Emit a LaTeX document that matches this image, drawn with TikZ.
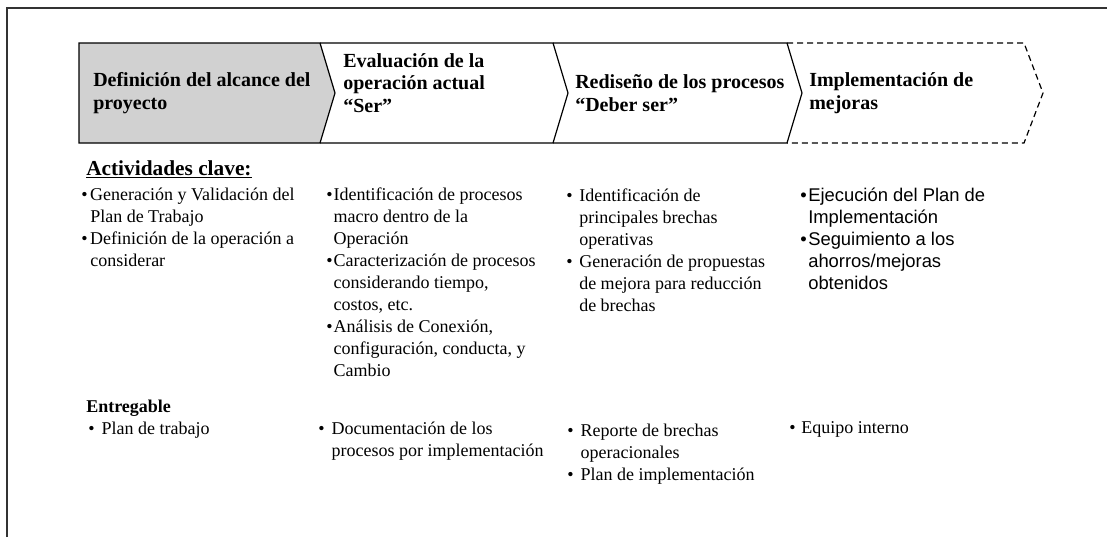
\documentclass[tikz,border=0pt]{standalone}
\usepackage{fontspec}
\setmainfont{Liberation Serif}
\newfontfamily\arialfont{Liberation Sans}
\tikzset{
  stage/.style = {draw=black, line width=0.9pt, line join=miter},
  head/.style  = {anchor=west, align=left, inner sep=0pt,
                  font=\fontsize{15}{17}\selectfont\bfseries},
  items/.style = {anchor=north west, align=left, inner sep=0pt,
                  font=\fontsize{13.5}{16.5}\selectfont},
  title/.style = {anchor=north west, inner sep=0pt,
                  font=\fontsize{13.5}{16.5}\selectfont\bfseries}
}
\newcommand\bul[1]{\makebox[#1][l]{\textbullet}}
\newcommand\ind[1]{\hspace*{#1}}

\begin{document}
\begin{tikzpicture}[x=0.75pt, y=-0.75pt]
	\def \ya{43}   % top of the stages
	\def \yb{143}  % bottom of the stages
	\def \ym{93}   % tip of the stages
	\useasboundingbox (0,0) rectangle (1107,537);

	% Frame
	\draw[black!80, line width=1.6pt] (7,537) -- (7,8) -- (1107,8);

	% Stages
	\fill[black!18] (79,\ya) -- (320,\ya) -- (335,\ym) -- (320,\yb) -- (79,\yb) -- cycle;
	\draw[stage] (79,\ya) -- (320,\ya) -- (335,\ym) -- (320,\yb) -- (79,\yb) -- cycle;
	\draw[stage] (320,\ya) -- (553,\ya) -- (568,\ym) -- (553,\yb) -- (320,\yb); % Ser
	\draw[stage] (553,\ya) -- (787,\ya) -- (802,\ym) -- (787,\yb) -- (553,\yb); % Deber ser
	\draw[stage, dash pattern=on 4.5pt off 3pt] (787,\ya) -- (1024,\ya) -- (1043,\ym) -- (1024,\yb) -- (787,\yb); % mejoras

	\node[head] (alcance) at (93,\ym) {Definición del alcance del\\proyecto};
	\node[head] (ser) at (343,83) {Evaluación de la\\operación actual\\“Ser”};
	\node[head] (deber) at (575,\ym) {Rediseño de los procesos\\“Deber ser”};
	\node[head] (mejoras) at (809,\ym) {Implementación de\\mejoras};

	% Actividades clave
	\node[title, font=\fontsize{16}{18}\selectfont\bfseries] (actividades) at (86,160) {\underline{Actividades clave:}};
	\node[items] (act1) at (81,188) {\bul{6.75pt}Generación y Validación del\\
		\ind{6.75pt}Plan de Trabajo\\
		\bul{6.75pt}Definición de la operación a\\
		\ind{6.75pt}considerar};
	\node[items] (act2) at (326,188) {\bul{5.5pt}Identificación de procesos\\
		\ind{5.5pt}macro dentro de la\\
		\ind{5.5pt}Operación\\
		\bul{5.5pt}Caracterización de procesos\\
		\ind{5.5pt}considerando tiempo,\\
		\ind{5.5pt}costos, etc.\\
		\bul{5.5pt}Análisis de Conexión,\\
		\ind{5.5pt}configuración, conducta, y\\
		\ind{5.5pt}Cambio};
	\node[items] (act3) at (566,189) {\bul{9.75pt}Identificación de\\
		\ind{9.75pt}principales brechas\\
		\ind{9.75pt}operativas\\
		\bul{9.75pt}Generación de propuestas\\
		\ind{9.75pt}de mejora para reducción\\
		\ind{9.75pt}de brechas};
	\node[items, font=\arialfont\fontsize{13.8}{16.5}\selectfont] (act4) at (800,188)
		{\bul{6pt}Ejecución del Plan de\\
		\ind{6pt}Implementación\\
		\bul{6pt}Seguimiento a los\\
		\ind{6pt}ahorros/mejoras\\
		\ind{6pt}obtenidos};

	% Entregable
	\node[title] (entregable) at (86,400) {Entregable};
	\node[items] (ent1) at (88,422) {\bul{10pt}Plan de trabajo};
	\node[items] (ent2) at (318,422) {\bul{10pt}Documentación de los\\
		\ind{10pt}procesos por implementación};
	\node[items] (ent3) at (567,424) {\bul{10pt}Reporte de brechas\\
		\ind{10pt}operacionales\\
		\bul{10pt}Plan de implementación};
	\node[items] (ent4) at (789,421) {\bul{9pt}Equipo interno};
\end{tikzpicture}
\end{document}
